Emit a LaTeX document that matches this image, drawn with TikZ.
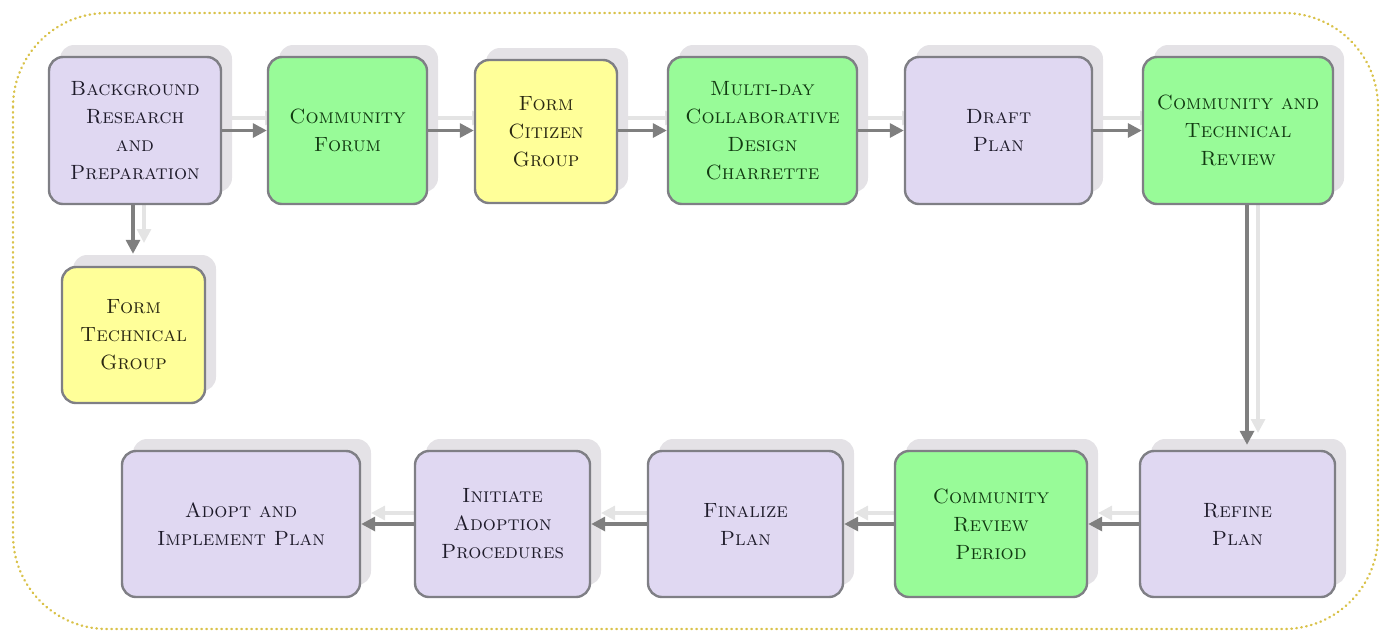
\documentclass[tikz,border=0pt]{standalone}
\usetikzlibrary{shadows,arrows.meta}
\definecolor{lav}{HTML}{E0D8F2}
\definecolor{grn}{HTML}{98FB98}
\definecolor{yel}{HTML}{FFFF99}
\definecolor{bord}{HTML}{7F7F85}
\definecolor{shad}{HTML}{E4E2E6}
\definecolor{arr}{HTML}{7F7F7F}
\definecolor{arrsh}{HTML}{E4E4E4}
\definecolor{framecol}{HTML}{D9C24A}
\definecolor{tpur}{HTML}{1E1B2A}
\definecolor{tgrn}{HTML}{113A11}
\definecolor{tyel}{HTML}{2A2812}
\begin{document}
\begin{tikzpicture}[x=0.5pt,y=-0.5pt,
  box/.style={draw=bord, line width=1.2pt, rounded corners=7pt, align=center, inner sep=0pt,
    font=\fontsize{10.3}{14}\selectfont\scshape,
    drop shadow={shadow xshift=5.5pt, shadow yshift=6pt, fill=shad, opacity=1}},
  pbox/.style={box, fill=lav, text=tpur},
  gbox/.style={box, fill=grn, text=tgrn},
  ybox/.style={box, fill=yel, text=tyel},
  flow/.style={draw=arr, line width=1.6pt, -{Triangle[length=7pt,width=7pt]}},
  flowsh/.style={draw=arrsh, line width=1.6pt, -{Triangle[length=7pt,width=7pt]},
    transform canvas={xshift=5.5pt,yshift=6pt}}
]
\useasboundingbox (0,0) rectangle (1384,633);
\draw[framecol, line width=1.2pt, line cap=round, dash pattern=on 0.3pt off 2.2pt, rounded corners=47pt] (13,13) rectangle (1378,629);

% shadow arrows (behind boxes)
\coordinate (s1a) at (221,130); \coordinate (s1b) at (268,130);
\coordinate (s2a) at (427,130); \coordinate (s2b) at (475,130);
\coordinate (s3a) at (617,130); \coordinate (s3b) at (668,130);
\coordinate (s4a) at (857,130); \coordinate (s4b) at (905,130);
\coordinate (s5a) at (1092,130); \coordinate (s5b) at (1143,130);
\coordinate (s6a) at (1247,204); \coordinate (s6b) at (1247,445);
\coordinate (s7a) at (1140,525); \coordinate (s7b) at (1087,525);
\coordinate (s8a) at (895,525); \coordinate (s8b) at (843,525);
\coordinate (s9a) at (648,525); \coordinate (s9b) at (590,525);
\coordinate (s10a) at (415,525); \coordinate (s10b) at (360,525);
\coordinate (s11a) at (133,204); \coordinate (s11b) at (133,255);
\foreach \i in {1,...,11} { \draw[flowsh] (s\i a) -- (s\i b); }

\node[pbox, minimum width=86pt, minimum height=73.5pt] (bg) at (135,130.5) {Background\\Research\\and\\Preparation};
\node[gbox, minimum width=79.5pt, minimum height=73.5pt] (cf) at (347.5,130.5) {Community\\Forum};
\node[ybox, minimum width=71pt, minimum height=71.5pt] (fcg) at (546,131.5) {Form\\Citizen\\Group};
\node[gbox, minimum width=94.5pt, minimum height=73.5pt] (md) at (762.5,130.5) {Multi-day\\Collaborative\\Design\\Charrette};
\node[pbox, minimum width=93.5pt, minimum height=73.5pt] (dp) at (998.5,130.5) {Draft\\Plan};
\node[gbox, minimum width=95pt, minimum height=73.5pt] (ctr) at (1238,130.5) {Community and\\Technical\\Review};
\node[ybox, minimum width=71.5pt, minimum height=68pt] (ftg) at (133.5,335) {Form\\Technical\\Group};

\node[pbox, minimum width=119pt, minimum height=73pt] (ad) at (241,524) {Adopt and\\Implement Plan};
\node[pbox, minimum width=87.5pt, minimum height=73pt] (ini) at (502.5,524) {Initiate\\Adoption\\Procedures};
\node[pbox, minimum width=97.5pt, minimum height=73pt] (fin) at (745.5,524) {Finalize\\Plan};
\node[gbox, minimum width=96pt, minimum height=73pt] (crp) at (991,524) {Community\\Review\\Period};
\node[pbox, minimum width=97.5pt, minimum height=73pt] (ref) at (1237.5,524) {Refine\\Plan};

\draw[flow] (bg) -- (cf);
\draw[flow] (cf.east) -- (cf.east -| fcg.west);
\draw[flow] (fcg.east |- md.west) -- (md.west);
\draw[flow] (md) -- (dp);
\draw[flow] (dp) -- (ctr);
\draw[flow, shorten >=2.5pt] ([xshift=4.5pt]ctr.south) -- ([xshift=4.5pt]ctr.south |- ref.north);
\draw[flow] (ref) -- (crp);
\draw[flow] (crp) -- (fin);
\draw[flow] (fin) -- (ini);
\draw[flow] (ini) -- (ad);
\draw[flow, shorten >=6pt] ([xshift=-1pt]bg.south) -- ([xshift=-1pt]bg.south |- ftg.north);
\end{tikzpicture}
\end{document}
